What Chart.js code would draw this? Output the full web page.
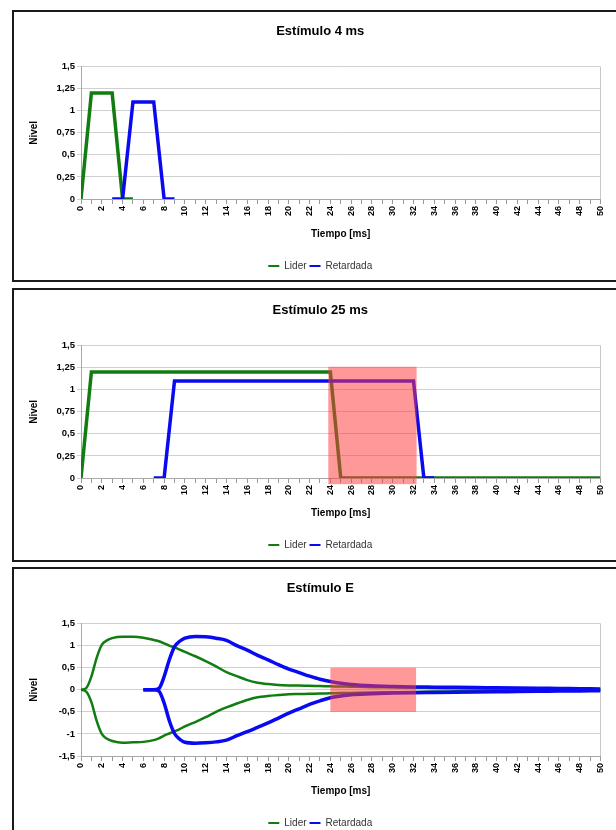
<!DOCTYPE html>
<html>
<head>
<meta charset="utf-8">
<script src="https://cdn.jsdelivr.net/npm/chart.js@4.4.1/dist/chart.umd.min.js"></script>
<style>
  html, body { margin: 0; padding: 0; background: #fff; overflow: hidden; width: 616px; height: 830px; }
  canvas { position: absolute; left: 14px; }
  .marco { position: absolute; left: 12px; width: 640px; border: 2px solid #1a1a1a; box-sizing: border-box; pointer-events: none; }
</style>
</head>
<body>
<canvas id="grafica4" width="614" height="270" style="top:11px"></canvas>
<canvas id="grafica25" width="614" height="270" style="top:290px"></canvas>
<canvas id="graficaE" width="614" height="270" style="top:568px"></canvas>
<div class="marco" style="top:10px;height:272px"></div>
<div class="marco" style="top:288px;height:274px"></div>
<div class="marco" style="top:567px;height:280px"></div>
<script>
// etiquetas de los ejes
const ticksTiempo = ['0','2','4','6','8','10','12','14','16','18','20','22','24','26','28','30','32','34','36','38','40','42','44','46','48','50'];
const ticksNivel = ['0','0,25','0,5','0,75','1','1,25','1,5'];
const ticksNivelE = ['-1,5','-1','-0,5','0','0,5','1','1,5'];

// Estímulo 4 ms
const tiempoLider4 = [0, 1, 3, 4, 5];
const nivelLider4 = [0, 1.2, 1.2, 0, 0];
const tiempoRet4 = [3, 4, 5, 7, 8, 9];
const nivelRet4 = [0, 0, 1.1, 1.1, 0, 0];

// Estímulo 25 ms
const tiempoLider25 = [0, 1, 24, 25, 50];
const nivelLider25 = [0, 1.2, 1.2, 0, 0];
const tiempoRet25 = [7, 8, 9, 32, 33, 34];
const nivelRet25 = [0, 0, 1.1, 1.1, 0, 0];

// Estímulo E (envolventes)
const tiempoE = [0,0.5,1,1.5,2,2.5,3,4,5,6,7,7.5,8,8.5,9,9.5,10,11,12,13,14,15,16,17,18,19,20,21,22,23,24,25,26,28,30,32,34,36,38,40,42,44,46,48,50];
const liderSup = [0,0.04,0.3,0.72,1.02,1.12,1.17,1.2,1.2,1.18,1.13,1.1,1.05,1.0,0.96,0.91,0.86,0.76,0.65,0.53,0.4,0.31,0.22,0.16,0.13,0.11,0.1,0.095,0.09,0.085,0.08,0.075,0.07,0.06,0.055,0.05,0.04,0.035,0.03,0.025,0.02,0.02,0.015,0.01,0.01];
const liderInf = [0,-0.04,-0.28,-0.7,-1.0,-1.11,-1.16,-1.2,-1.19,-1.18,-1.14,-1.1,-1.04,-0.99,-0.94,-0.89,-0.83,-0.73,-0.62,-0.5,-0.4,-0.31,-0.23,-0.17,-0.14,-0.12,-0.1,-0.095,-0.09,-0.085,-0.08,-0.075,-0.07,-0.06,-0.055,-0.05,-0.04,-0.035,-0.03,-0.025,-0.02,-0.02,-0.015,-0.01,-0.01];
const retSup = [null,null,null,null,null,null,null,null,null,0,0,0.03,0.3,0.68,0.98,1.1,1.17,1.21,1.2,1.17,1.12,1.0,0.9,0.78,0.68,0.57,0.47,0.39,0.31,0.24,0.19,0.15,0.12,0.09,0.075,0.065,0.06,0.055,0.05,0.045,0.04,0.035,0.03,0.025,0.02];
const retInf = [null,null,null,null,null,null,null,null,null,0,0,-0.03,-0.3,-0.7,-0.99,-1.12,-1.19,-1.21,-1.2,-1.18,-1.14,-1.04,-0.95,-0.85,-0.75,-0.64,-0.53,-0.43,-0.33,-0.25,-0.18,-0.14,-0.11,-0.09,-0.075,-0.065,-0.06,-0.055,-0.05,-0.045,-0.04,-0.035,-0.03,-0.025,-0.02];

// ventanas sombreadas: tiempo inicio, tiempo fin, nivel min, nivel max
const ventana25 = [23.8, 32.3, -0.07, 1.26];
const ventanaE = [24, 32.25, -0.5, 0.5];

const verde = '#117d11';
const azul = '#0a0af2';
Chart.defaults.font.family = "'Liberation Sans', Arial, sans-serif";

function puntos(xs, ys) {
  return xs.map((x, i) => ({ x: x, y: ys[i] }));
}

const ventanaPlugin = {
  id: 'ventana',
  afterDatasetsDraw(chart, args, opts) {
    if (!opts.rango) return;
    const { ctx, scales: { x, y } } = chart;
    const [t0, t1, n0, n1] = opts.rango;
    const px0 = x.getPixelForValue(t0), px1 = x.getPixelForValue(t1);
    const py0 = y.getPixelForValue(n1), py1 = y.getPixelForValue(n0);
    ctx.save();
    ctx.fillStyle = 'rgba(255,60,60,0.52)';
    ctx.fillRect(px0, py0, px1 - px0, py1 - py0);
    ctx.restore();
  }
};

function crearGrafica(id, titulo, datasets, ejeY, ventana) {
  return new Chart(document.getElementById(id), {
    type: 'line',
    data: { datasets: datasets },
    plugins: [ventanaPlugin],
    options: {
      responsive: false,
      animation: false,
      layout: { padding: { left: 26, right: 27.5, top: 0, bottom: 0 } },
      elements: { point: { radius: 0 } },
      plugins: {
        ventana: { rango: ventana },
        tooltip: { enabled: false },
        title: {
          display: true, text: titulo, color: '#000',
          font: { size: 13, weight: 'bold' },
          padding: { top: 13, bottom: 27 }
        },
        legend: {
          position: 'bottom',
          labels: {
            usePointStyle: true, pointStyle: 'line', pointStyleWidth: 11,
            padding: 3, color: '#333', font: { size: 10 },
            filter: item => item.datasetIndex < 2,
            sort: (a, b) => a.datasetIndex - b.datasetIndex,
            generateLabels: chart => Chart.defaults.plugins.legend.labels.generateLabels(chart)
              .map(l => Object.assign(l, { lineWidth: 2 }))
          }
        }
      },
      scales: {
        x: {
          type: 'linear', min: 0, max: 50,
          afterFit: s => { s.height = 59; },
          border: { color: '#a8a8a8' },
          grid: {
            color: c => (c.tick && c.tick.value === 50) ? '#c8c8c8' : 'rgba(0,0,0,0)',
            tickColor: '#999', tickLength: 5
          },
          ticks: {
            stepSize: 1, autoSkip: false, minRotation: 90, maxRotation: 90, padding: 2,
            color: '#000', font: { size: 9, weight: 'bold' },
            callback: v => v % 2 === 0 ? ticksTiempo[v / 2] : ''
          },
          title: {
            display: true, text: 'Tiempo [ms]', color: '#000',
            font: { size: 10, weight: 'bold' }, padding: { top: 4, bottom: 18 }
          }
        },
        y: {
          min: ejeY.min, max: ejeY.max,
          afterFit: s => { s.width = 41; },
          border: { color: '#a8a8a8' },
          grid: { color: '#d0d0d0', tickColor: '#d0d0d0', tickLength: 4 },
          ticks: {
            stepSize: ejeY.paso, padding: 2, color: '#000',
            font: { size: 9.5, weight: 'bold' },
            callback: (v, i) => ejeY.etiquetas[i]
          },
          title: {
            display: true, text: 'Nivel', color: '#000',
            font: { size: 10, weight: 'bold' }, padding: { top: -12, bottom: 0 }
          }
        }
      }
    }
  });
}

const ejeNivel = { min: 0, max: 1.5, paso: 0.25, etiquetas: ticksNivel };
const ejeNivelE = { min: -1.5, max: 1.5, paso: 0.5, etiquetas: ticksNivelE };

crearGrafica('grafica4', 'Estímulo 4 ms', [
  { label: 'Lider', data: puntos(tiempoLider4, nivelLider4), borderColor: verde, backgroundColor: verde, borderWidth: 3.5, order: 1 },
  { label: 'Retardada', data: puntos(tiempoRet4, nivelRet4), borderColor: azul, backgroundColor: azul, borderWidth: 3.5, order: 0 }
], ejeNivel, null);

crearGrafica('grafica25', 'Estímulo 25 ms', [
  { label: 'Lider', data: puntos(tiempoLider25, nivelLider25), borderColor: verde, backgroundColor: verde, borderWidth: 3.5, order: 1 },
  { label: 'Retardada', data: puntos(tiempoRet25, nivelRet25), borderColor: azul, backgroundColor: azul, borderWidth: 3.5, order: 0 }
], ejeNivel, ventana25);

crearGrafica('graficaE', 'Estímulo E', [
  { label: 'Lider', data: puntos(tiempoE, liderSup), borderColor: verde, backgroundColor: verde, borderWidth: 2.5, cubicInterpolationMode: 'monotone', order: 1 },
  { label: 'Retardada', data: puntos(tiempoE, retSup), borderColor: azul, backgroundColor: azul, borderWidth: 3.5, cubicInterpolationMode: 'monotone', order: 0 },
  { label: 'Lider', data: puntos(tiempoE, liderInf), borderColor: verde, backgroundColor: verde, borderWidth: 2.5, cubicInterpolationMode: 'monotone', order: 1 },
  { label: 'Retardada', data: puntos(tiempoE, retInf), borderColor: azul, backgroundColor: azul, borderWidth: 3.5, cubicInterpolationMode: 'monotone', order: 0 }
], ejeNivelE, ventanaE);
</script>
</body>
</html>
